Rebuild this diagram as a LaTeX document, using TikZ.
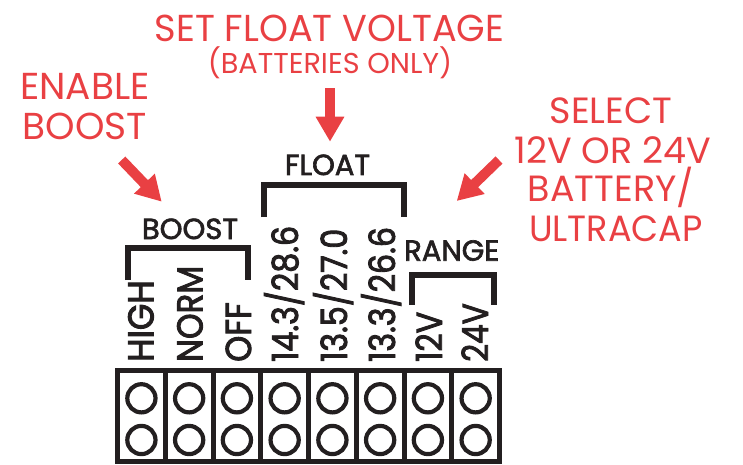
\documentclass[tikz,border=0pt]{standalone}
\usepackage{fontspec}
\setmainfont{Poppins}
\newfontfamily\redfont{Poppins}
\newfontfamily\blkfont{Poppins}[FakeBold=2.2]
\newfontfamily\vertfont{Poppins}[FakeBold=2.6,FakeStretch=0.94]
\usetikzlibrary{arrows.meta}
\definecolor{redc}{RGB}{233,64,67}
\definecolor{inkc}{RGB}{35,31,32}
\begin{document}
\begin{tikzpicture}[x=1pt,y=1pt,
  redbig/.style={text=redc, font=\redfont\fontsize{37.5}{40}\selectfont, inner sep=0pt, anchor=base},
  redsmall/.style={text=redc, font=\redfont\fontsize{28.7}{30}\selectfont, inner sep=0pt, anchor=base},
  redright/.style={text=redc, font=\redfont\fontsize{36.5}{38}\selectfont, inner sep=0pt, anchor=base},
  grouplbl/.style={text=inkc, font=\blkfont\fontsize{29}{30}\selectfont, inner sep=0pt, anchor=base},
  vlbl/.style={text=inkc, font=\vertfont\fontsize{36}{36}\selectfont, inner sep=0pt, anchor=base west, rotate=90},
  brk/.style={draw=inkc, line width=6pt},
  blockline/.style={draw=inkc, line width=5pt},
  hole/.style={circle, draw=inkc, line width=4.2pt, minimum size=28.2pt, inner sep=0pt},
  redarrow/.style={draw=redc, line width=10pt, -{Triangle[length=25pt,width=27pt]}}
]
\useasboundingbox (0,0) rectangle (743,464);

% red captions
\node[redbig] (setfloat) at (329.5,422.3) {\scalebox{0.98}[1]{SET FLOAT VOLTAGE}};
\node[redsmall] (battonly) at (330,390.7) {(BATTERIES ONLY)};
\node[redbig] (enable) at (85,364) {ENABLE};
\node[redbig] (boostr) at (85,324) {BOOST};
\node[redright] (select) at (611,340.7) {SELECT};
\node[redright] (twelve) at (613,300.7) {12V OR 24V};
\node[redright] (battery) at (611,262.3) {BATTERY/};
\node[redright] (ultra) at (616,222.3) {\scalebox{0.96}[1]{ULTRACAP}};

% arrows
\coordinate (dA) at (330,375.7); \coordinate (dB) at (330,322.3);
\coordinate (lA) at (121.7,304); \coordinate (lB) at (161.7,262.3);
\coordinate (rA) at (499,304);   \coordinate (rB) at (456.7,263);
\draw[redarrow] (dA) -- (dB);
\draw[redarrow] (lA) -- (lB);
\draw[redarrow] (rA) -- (rB);

% group labels
\node[grouplbl] (boost) at (190,225) {BOOST};
\node[grouplbl] (float) at (327.5,289) {FLOAT};
\node[grouplbl] (range) at (451.7,203.3) {RANGE};

% brackets
\draw[brk] (128.3,184) -- (128.3,215.7) -- (248,215.7) -- (248,184);
\draw[brk] (263.5,247) -- (263.5,279) -- (403.5,279) -- (403.5,247);
\draw[brk] (411.5,159) -- (411.5,189) -- (493.5,189) -- (493.5,159);

% vertical labels
\node[vlbl] (high) at (153.5,102) {HIGH};
\node[vlbl] (norm) at (202.5,102) {\scalebox{0.96}[1]{NORM}};
\node[vlbl] (off)  at (251,102) {\scalebox{0.98}[1]{OFF}};
\node[vlbl] (f1)   at (298,102) {\scalebox{0.94}[1]{14.3/28.6}};
\node[vlbl] (f2)   at (347,102) {\scalebox{0.94}[1]{13.5/27.0}};
\node[vlbl] (f3)   at (395,102) {\scalebox{0.94}[1]{13.3/26.6}};
\node[vlbl] (v12)  at (442,102) {\scalebox{0.94}[1]{12V}};
\node[vlbl] (v24)  at (488,102) {\scalebox{0.92}[1]{24V}};

% jumper block
\draw[blockline] (117.5,2.5) rectangle (499.5,93.5);
\foreach \i in {1,...,7} {
  \draw[blockline] ({117.5+47.75*\i},2.5) -- ({117.5+47.75*\i},93.5);
}
\foreach \i in {0,...,7} {
  \node[hole] (t\i) at ({141.4+47.75*\i},65.7) {};
  \node[hole] (b\i) at ({141.4+47.75*\i},24) {};
}
\end{tikzpicture}
\end{document}
